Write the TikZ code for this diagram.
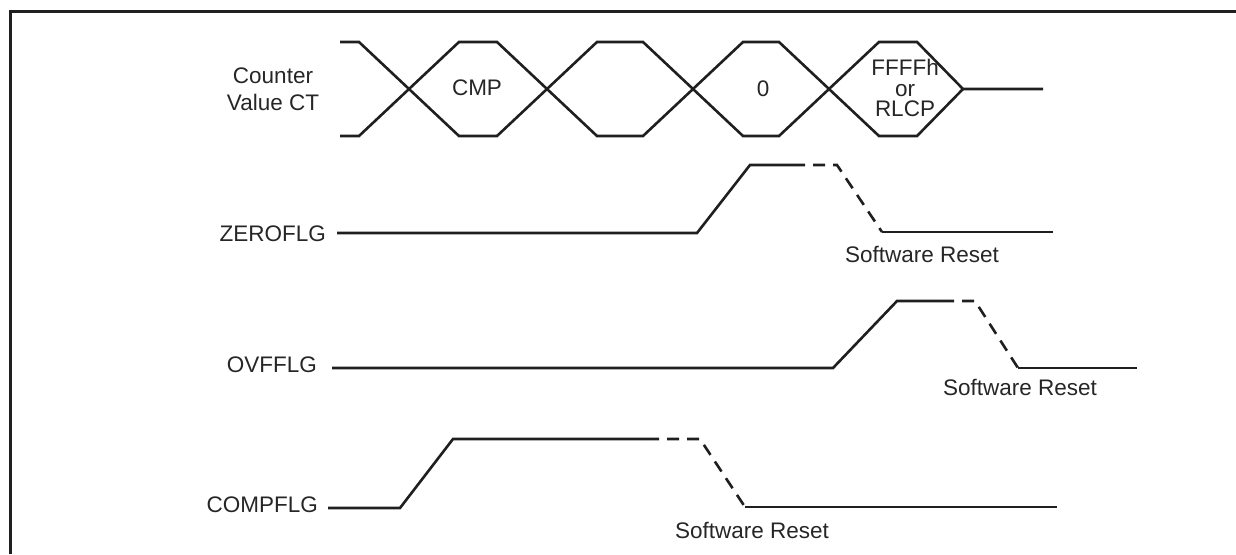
\documentclass[tikz,border=0pt]{standalone}
\usepackage{fontspec}
\setmainfont{Liberation Sans}
\begin{document}
\begin{tikzpicture}[x=1pt,y=-1pt,
  wave/.style={line width=2.6pt,draw=black!88,line join=miter},
  dashwave/.style={wave,dash pattern=on 12pt off 8pt},
  frameline/.style={line width=3pt,draw=black!88},
  lbl/.style={inner sep=0pt,text=black!85,font=\fontsize{22.5}{26}\selectfont},
]
\useasboundingbox (0,0) rectangle (1236,554);
% frame
\draw[frameline] (10.5,554) -- (10.5,11) -- (1236,11);

% Counter value bus
\draw[wave] (340,42) -- (359,42) -- (459,136) -- (497,136) -- (597,42) -- (643,42) -- (743,136) -- (779,136) -- (879,42) -- (917,42) -- (963,89) -- (1043,89);
\draw[wave] (340,136) -- (359,136) -- (459,42) -- (497,42) -- (597,136) -- (643,136) -- (743,42) -- (779,42) -- (879,136) -- (917,136) -- (963,89);

\node[lbl,anchor=base] (ct1) at (273,83) {Counter};
\node[lbl,anchor=base] (ct2) at (273,110) {Value CT};
\node[lbl,anchor=base] (cmp) at (477,95) {CMP};
\node[lbl,anchor=base] (zero) at (763,96) {0};
\node[lbl,align=center,font=\fontsize{22.5}{20.5}\selectfont,anchor=center] (ffff) at (905,88) {FFFFh\\or\\RLCP};

% ZEROFLG
\node[lbl,anchor=base east] (zlbl) at (326,241) {ZEROFLG};
\coordinate (z0) at (337,233);
\coordinate (z1) at (697,233);
\coordinate (z2) at (750,165);
\coordinate (z3) at (793,165);
\coordinate (z4) at (837,165);
\coordinate (z5) at (882,232);
\coordinate (z6) at (1053,232);
\draw[wave] (z0) -- (z1) -- (z2) -- (z3);
\draw[dashwave] (z3) -- (z4) -- (z5);
\draw[wave] (z5) -- (z6);
\node[lbl,anchor=base] (zsr) at (922,262) {Software Reset};

% OVFFLG
\node[lbl,anchor=base east] (olbl) at (317,372) {OVFFLG};
\coordinate (o0) at (332,368);
\coordinate (o1) at (833,368);
\coordinate (o2) at (897,301);
\coordinate (o3) at (942,301);
\coordinate (o4) at (975,301);
\coordinate (o5) at (1018,368);
\coordinate (o6) at (1137,368);
\draw[wave] (o0) -- (o1) -- (o2) -- (o3);
\draw[dashwave] (o3) -- (o4) -- (o5);
\draw[wave] (o5) -- (o6);
\node[lbl,anchor=base] (osr) at (1020,395) {Software Reset};

% COMPFLG
\node[lbl,anchor=base east] (clbl) at (318,512) {COMPFLG};
\coordinate (c0) at (328,508);
\coordinate (c1) at (400,508);
\coordinate (c2) at (453,439);
\coordinate (c3) at (647,439);
\coordinate (c4) at (700,439);
\coordinate (c5) at (745,507);
\coordinate (c6) at (1057,507);
\draw[wave] (c0) -- (c1) -- (c2) -- (c3);
\draw[dashwave] (c3) -- (c4) -- (c5);
\draw[wave] (c5) -- (c6);
\node[lbl,anchor=base] (csr) at (752,538) {Software Reset};
\end{tikzpicture}
\end{document}
